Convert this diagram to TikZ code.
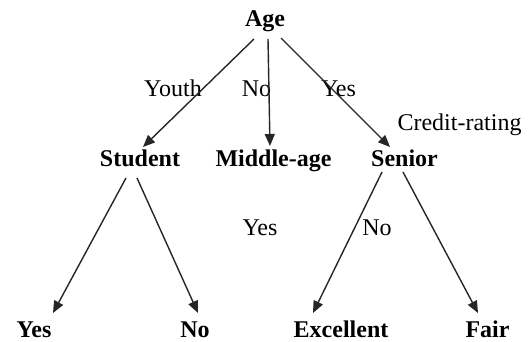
\documentclass[tikz,border=0pt]{standalone}
\usepackage{fontspec}
\setmainfont{Liberation Serif}
\usetikzlibrary{arrows.meta}

\begin{document}
\begin{tikzpicture}[x=0.5pt, y=-0.5pt,
  every node/.style={inner sep=0pt, anchor=base, font=\fontsize{12}{14}\selectfont},
  attr/.style={font=\fontsize{12}{14}\selectfont\bfseries},
  arr/.style={-{Triangle[length=6pt, width=5pt]}, line width=0.7pt, black!85}]

\useasboundingbox (0,0) rectangle (530,342);

% tree nodes
\node[attr] (age) at (265,27) {Age};
\node[attr] (student) at (140,166) {Student};
\node[attr] (middle) at (273.5,166) {Middle-age};
\node[attr] (senior) at (404.5,166) {Senior};
\node (credit) at (459.5,131) {Credit-rating};

\node[attr] (yes) at (34,337) {Yes};
\node[attr] (no) at (195,337) {No};
\node[attr] (excellent) at (341,337) {Excellent};
\node[attr] (fair) at (487.5,337) {Fair};

% branch labels
\node (youth) at (173,97) {Youth};
\node (lno) at (256.5,97) {No};
\node (lyes) at (338.5,97) {Yes};
\node (syes) at (260,235) {Yes};
\node (sno) at (377,235) {No};

\draw[arr] ([shift={(-11,12)}]age.base) -- ([shift={(3,-19)}]student.base);
\draw[arr] ([shift={(3,12)}]age.base) -- ([shift={(-3.5,-20)}]middle.base);
\draw[arr] ([shift={(16,11)}]age.base) -- ([shift={(-14.5,-19)}]senior.base);

\draw[arr] ([shift={(-14,12)}]student.base) -- ([shift={(19,-24)}]yes.base);
\draw[arr] ([shift={(-3,12)}]student.base) -- ([shift={(3,-24)}]no.base);

\draw[arr] ([shift={(-22.5,6)}]senior.base) -- ([shift={(-28,-24)}]excellent.base);
\draw[arr] ([shift={(-1.5,6)}]senior.base) -- ([shift={(-9.5,-24)}]fair.base);

\end{tikzpicture}
\end{document}
